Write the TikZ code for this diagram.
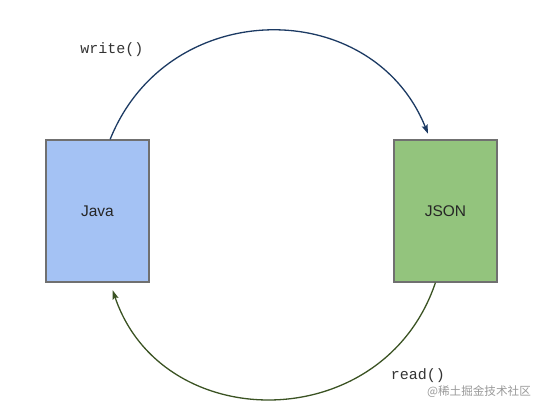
\documentclass[tikz,border=0pt]{standalone}
\usepackage{fontspec}
\setmainfont{Liberation Sans}
\setmonofont{Liberation Mono}
\newfontfamily\cjk{Noto Sans CJK SC}
\usetikzlibrary{arrows.meta}
\definecolor{javablue}{HTML}{A4C2F4}
\definecolor{jsongreen}{HTML}{93C47D}
\definecolor{boxline}{HTML}{707070}
\definecolor{writeline}{HTML}{1C3A63}
\definecolor{readline}{HTML}{3B5323}

\begin{document}
\begin{tikzpicture}[x=1pt,y=-1pt,
  box/.style={draw=boxline,line width=1.3pt,minimum width=103pt,minimum height=142pt,
    inner sep=0pt,font=\fontsize{15.5}{18}\selectfont,text=black!85},
  call/.style={font=\ttfamily\fontsize{15}{18}\selectfont,text=black!80},
  flow/.style={line width=1.3pt,-{Stealth[length=9pt,width=6pt,inset=1.5pt]}}]
\useasboundingbox (0,0) rectangle (542,411);
\node[box,fill=javablue] (java) at (97.5,211) {Java};
\node[box,fill=jsongreen] (json) at (445.5,211) {JSON};
% write() goes over the top, read() comes back underneath
\draw[flow,draw=writeline,shorten >=6pt](java.80) .. controls +(58,-144) and +(-58,-144) .. (json.102);
\draw[flow,draw=readline,shorten >=8pt](json.-98) .. controls +(-52,154) and +(52,154) .. (java.-80);
\node[call] (write) at (112,50) {write()};
\node[call] (read) at (418,376) {read()};
\node[font=\cjk\fontsize{11.6}{13}\selectfont,text=black!40] (mark) at (479,392) {@稀土掘金技术社区};
\end{tikzpicture}
\end{document}
